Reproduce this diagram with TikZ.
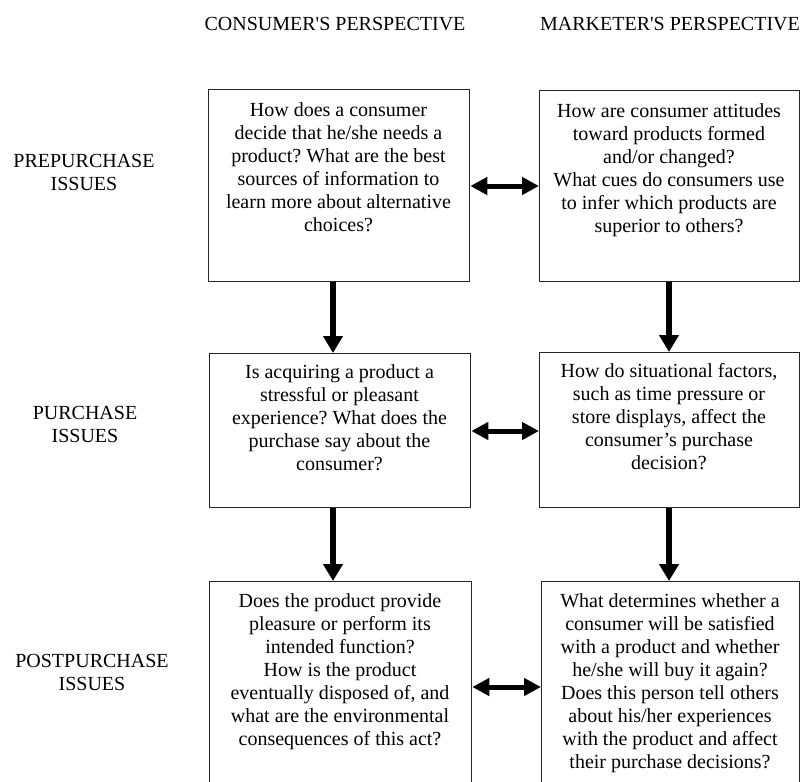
\documentclass[tikz,border=0pt]{standalone}
\usepackage{fontspec}
\setmainfont{Liberation Serif}
\usetikzlibrary{arrows.meta}
\frenchspacing
\tikzset{
  box/.style={draw=black!85, line width=1.3pt, fill=none},
  txt/.style={anchor=base, inner sep=0pt, font=\fontsize{20}{23}\selectfont},
  varrow/.style={line width=6.5pt, -{Triangle[length=17pt,width=19pt]}},
  harrow/.style={line width=5pt, {Triangle[length=17pt,width=17pt]}-{Triangle[length=17pt,width=17pt]}},
}
\newcommand{\mytext}[2]{\parbox[t]{#1}{\centering #2}}
\begin{document}
\begin{tikzpicture}[x=1pt,y=-1pt]
\useasboundingbox (0,0) rectangle (801,782);
\clip (0,0) rectangle (801,782);
% headers
\node[txt] (hc) at (335,30) {CONSUMER\textquotesingle S PERSPECTIVE};
\node[txt] (hm) at (670,30) {MARKETER\textquotesingle S PERSPECTIVE};
% row labels
\node[txt] (l1) at (84,167) {\mytext{200pt}{PREPURCHASE\\ISSUES}};
\node[txt] (l2) at (85,419) {\mytext{200pt}{PURCHASE\\ISSUES}};
\node[txt] (l3) at (92,667) {\mytext{200pt}{POSTPURCHASE\\ISSUES}};
% boxes
\node[box, anchor=north west, minimum width=261pt, minimum height=192pt, inner sep=0pt] (b11) at (208,89) {};
\node[box, anchor=north west, minimum width=260pt, minimum height=191pt, inner sep=0pt] (b12) at (539,90) {};
\node[box, anchor=north west, minimum width=261pt, minimum height=154pt, inner sep=0pt] (b21) at (209,353) {};
\node[box, anchor=north west, minimum width=260pt, minimum height=155pt, inner sep=0pt] (b22) at (539,352) {};
\node[box, anchor=north west, minimum width=262pt, minimum height=230pt, inner sep=0pt] (b31) at (209,581) {};
\node[box, anchor=north west, minimum width=258pt, minimum height=230pt, inner sep=0pt] (b32) at (541,581) {};
% box texts
\node[txt] (t11) at (338.5,116) {\mytext{255pt}{How does a consumer\\decide that he/she needs a\\product? What are the best\\sources of information to\\learn more about alternative\\choices?}};
\node[txt] (t12) at (669,117) {\mytext{255pt}{How are consumer attitudes\\toward products formed\\and/or changed?\\What cues do consumers use\\to infer which products are\\superior to others?}};
\node[txt] (t21) at (339.5,378) {\mytext{255pt}{Is acquiring a product a\\stressful or pleasant\\experience? What does the\\purchase say about the\\consumer?}};
\node[txt] (t22) at (669,377) {\mytext{255pt}{How do situational factors,\\such as time pressure or\\store displays, affect the\\consumer's purchase\\decision?}};
\node[txt] (t31) at (340,607) {\mytext{255pt}{Does the product provide\\pleasure or perform its\\intended function?\\How is the product\\eventually disposed of, and\\what are the environmental\\consequences of this act?}};
\node[txt] (t32) at (670,607) {\mytext{255pt}{What determines whether a\\consumer will be satisfied\\with a product and whether\\he/she will buy it again?\\Does this person tell others\\about his/her experiences\\with the product and affect\\their purchase decisions?}};
% arrow columns
\coordinate (cl) at (333,0);
\coordinate (cr) at (669,0);
\draw[varrow] (b11.south -| cl) -- (b21.north -| cl);
\draw[varrow] (b12.south -| cr) -- (b22.north -| cr);
\draw[varrow] (b21.south -| cl) -- (b31.north -| cl);
\draw[varrow] (b22.south -| cr) -- (b32.north -| cr);
% horizontal double arrows
\coordinate (r1) at (0,186);
\coordinate (r2) at (0,431);
\coordinate (r3) at (0,687);
\draw[harrow] (b11.east |- r1) -- (b12.west |- r1);
\draw[harrow] (b21.east |- r2) -- (b22.west |- r2);
\draw[harrow] (b31.east |- r3) -- (b32.west |- r3);
\end{tikzpicture}
\end{document}
